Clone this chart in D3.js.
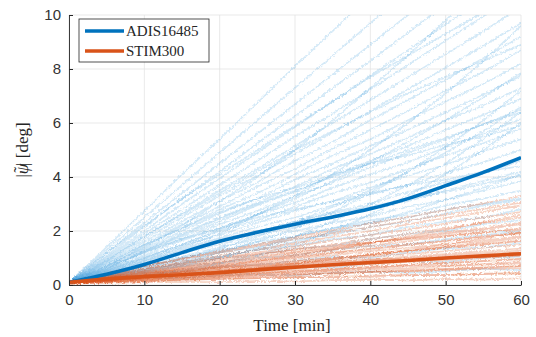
<!DOCTYPE html>
<html><head><meta charset="utf-8">
<script src="https://cdn.jsdelivr.net/npm/d3@7"></script>
<style>body{margin:0;background:#fff}svg{display:block}</style>
</head><body>
<svg id="c" width="536" height="337"></svg>
<script>
const times = [0,5,10,15,20,25,30,35,40,45,50,55,60];
const xTicks = [0,10,20,30,40,50,60];
const yTicks = [0,2,4,6,8,10];
const seriesNames = ["ADIS16485","STIM300"];
const blueMean = [0.1,0.4,0.76,1.2,1.62,1.95,2.25,2.52,2.82,3.2,3.68,4.17,4.72];
const orangeMean = [0.1,0.22,0.31,0.38,0.46,0.56,0.66,0.75,0.83,0.91,1.0,1.08,1.16];
const blueRuns = [
[0.1,0.2,0.3,0.25,0.35,0.4,0.35,0.45,0.5,0.45,0.5,0.6,0.55],
[0.1,0.3,0.35,0.5,0.45,0.6,0.7,0.65,0.8,0.9,0.85,1.0,1.05],
[0.1,0.25,0.45,0.5,0.7,0.75,0.9,1.05,1.0,1.2,1.35,1.4,1.55],
[0.1,0.35,0.5,0.7,0.8,1.0,1.1,1.3,1.45,1.5,1.7,1.85,2.0],
[0.1,0.3,0.6,0.75,1.0,1.1,1.35,1.45,1.7,1.9,2.0,2.25,2.4],
[0.1,0.4,0.55,0.85,1.05,1.3,1.45,1.7,1.85,2.15,2.35,2.5,2.8],
[0.1,0.35,0.7,0.9,1.2,1.4,1.7,1.85,2.15,2.35,2.65,2.95,3.15],
[0.1,0.45,0.65,1.0,1.25,1.6,1.8,2.1,2.4,2.6,2.95,3.2,3.5],
[0.1,0.4,0.8,1.05,1.4,1.7,2.0,2.3,2.55,2.9,3.15,3.5,3.85],
[0.1,0.5,0.8,1.2,1.5,1.85,2.15,2.5,2.85,3.1,3.5,3.85,4.2],
[0.1,0.45,0.9,1.25,1.65,1.95,2.35,2.7,3.0,3.45,3.8,4.15,4.6],
[0.1,0.55,0.95,1.35,1.75,2.15,2.5,2.95,3.35,3.7,4.15,4.55,5.0],
[0.1,0.5,1.0,1.45,1.85,2.3,2.75,3.1,3.6,4.05,4.45,4.95,5.4],
[0.1,0.6,1.05,1.5,2.0,2.4,2.9,3.4,3.8,4.3,4.8,5.25,5.8],
[0.1,0.55,1.1,1.65,2.1,2.6,3.05,3.6,4.1,4.55,5.1,5.6,6.15],
[0.1,0.65,1.2,1.7,2.25,2.75,3.3,3.8,4.35,4.9,5.4,5.95,6.5],
[0.1,0.6,1.25,1.8,2.35,2.95,3.45,4.05,4.6,5.15,5.75,6.3,6.9],
[0.1,0.7,1.3,1.9,2.5,3.05,3.65,4.3,4.85,5.45,6.1,6.65,7.3],
[0.1,0.75,1.35,2.0,2.65,3.2,3.9,4.5,5.15,5.75,6.4,7.05,7.75],
[0.1,0.7,1.45,2.1,2.8,3.4,4.1,4.8,5.4,6.1,6.8,7.45,8.2],
[0.1,0.8,1.5,2.25,2.9,3.65,4.3,5.05,5.75,6.45,7.2,7.9,8.7],
[0.1,0.85,1.6,2.35,3.1,3.8,4.6,5.3,6.1,6.85,7.6,8.4,9.2],
[0.1,0.9,1.7,2.5,3.3,4.05,4.85,5.65,6.45,7.25,8.05,8.85,9.7],
[0.1,0.95,1.8,2.65,3.5,4.3,5.15,6.0,6.85,7.7,8.55,9.4,10.3],
[0.1,1.0,1.9,2.8,3.7,4.6,5.5,6.35,7.25,8.15,9.05,9.95,10.9],
[0.1,1.05,2.0,3.0,3.95,4.9,5.85,6.8,7.75,8.7,9.65,10.6,11.6],
[0.1,1.1,2.15,3.2,4.2,5.25,6.25,7.3,8.3,9.35,10.4,11.4,12.4],
[0.1,1.2,2.3,3.4,4.5,5.6,6.7,7.8,8.9,10.0,11.1,12.2,13.3],
[0.1,1.3,2.5,3.7,4.9,6.1,7.3,8.5,9.7,10.9,12.1,13.3,14.5],
[0.1,1.4,2.75,4.1,5.4,6.75,8.1,9.4,10.75,12.1,13.4,14.8,16.1],
[0.1,0.2,0.35,0.55,0.8,1.1,1.5,2.0,2.6,3.3,4.1,5.0,6.0],
[0.1,0.3,0.5,0.8,1.2,1.6,2.1,2.7,3.4,4.2,5.1,6.1,7.2],
[0.1,0.6,1.2,1.7,2.1,2.5,2.8,3.1,3.4,3.7,3.9,4.2,4.4],
[0.1,0.8,1.5,2.1,2.7,3.2,3.6,4.1,4.5,4.8,5.2,5.5,5.9],
[0.1,0.25,0.45,0.7,1.0,1.35,1.8,2.35,3.0,3.7,4.5,5.4,6.4],
[0.1,0.5,0.9,1.4,1.9,2.6,3.3,4.1,5.0,6.0,7.1,8.3,9.6],
[0.1,0.7,1.4,2.2,3.1,4.0,5.0,6.1,7.3,8.5,9.8,11.2,12.6],
[0.1,0.4,0.7,1.0,1.3,1.5,1.8,2.1,2.3,2.5,2.8,3.0,3.2],
[0.1,0.45,0.85,1.3,1.7,2.0,2.35,2.65,2.9,3.2,3.45,3.75,4.05],
[0.1,0.35,0.6,0.95,1.35,1.8,2.3,2.9,3.5,4.2,4.9,5.7,6.6],
[0.1,0.9,1.8,2.6,3.4,4.2,5.0,5.7,6.4,7.1,7.7,8.3,8.9],
[0.1,1.2,2.2,3.2,4.1,5.0,5.9,6.8,7.7,8.5,9.3,10.1,10.9],
[0.1,0.55,1.0,1.5,2.05,2.6,3.2,3.85,4.55,5.3,6.1,6.95,7.85],
[0.1,0.3,0.55,0.8,1.05,1.3,1.6,1.95,2.3,2.7,3.15,3.6,4.1],
[0.1,0.65,1.25,1.85,2.45,3.0,3.5,4.0,4.5,5.0,5.45,5.95,6.4]
];
const orangeRuns = [
[0.05,0.08,0.1,0.12,0.1,0.15,0.13,0.18,0.2,0.17,0.22,0.2,0.25],
[0.08,0.12,0.15,0.2,0.22,0.25,0.3,0.28,0.35,0.38,0.36,0.42,0.45],
[0.1,0.15,0.2,0.25,0.3,0.35,0.4,0.42,0.48,0.5,0.55,0.6,0.62],
[0.1,0.15,0.22,0.3,0.35,0.42,0.45,0.52,0.58,0.62,0.7,0.75,0.8],
[0.1,0.18,0.25,0.32,0.4,0.48,0.55,0.6,0.68,0.75,0.8,0.88,0.95],
[0.1,0.2,0.28,0.38,0.45,0.52,0.62,0.7,0.78,0.85,0.92,1.0,1.08],
[0.1,0.18,0.3,0.4,0.5,0.58,0.68,0.78,0.85,0.95,1.05,1.12,1.2],
[0.1,0.22,0.32,0.45,0.55,0.65,0.75,0.85,0.95,1.05,1.15,1.25,1.35],
[0.1,0.2,0.35,0.48,0.6,0.7,0.82,0.92,1.05,1.15,1.25,1.38,1.5],
[0.1,0.25,0.38,0.5,0.65,0.78,0.9,1.0,1.15,1.28,1.4,1.52,1.65],
[0.1,0.22,0.4,0.55,0.68,0.82,0.98,1.1,1.25,1.38,1.52,1.65,1.8],
[0.1,0.28,0.42,0.6,0.75,0.9,1.05,1.2,1.35,1.5,1.65,1.8,1.95],
[0.1,0.25,0.45,0.62,0.8,0.95,1.12,1.3,1.45,1.62,1.8,1.95,2.1],
[0.1,0.3,0.5,0.68,0.85,1.05,1.22,1.4,1.58,1.75,1.95,2.1,2.3],
[0.1,0.32,0.52,0.72,0.92,1.12,1.32,1.5,1.7,1.9,2.1,2.3,2.5],
[0.1,0.35,0.55,0.78,1.0,1.2,1.42,1.65,1.85,2.05,2.28,2.5,2.7],
[0.1,0.38,0.6,0.85,1.08,1.3,1.55,1.78,2.0,2.25,2.48,2.7,2.95],
[0.1,0.42,0.7,0.98,1.25,1.5,1.78,2.02,2.28,2.52,2.78,3.02,3.3],
[0.05,0.1,0.15,0.18,0.22,0.25,0.28,0.32,0.3,0.35,0.38,0.4,0.42],
[0.08,0.15,0.25,0.3,0.38,0.45,0.5,0.55,0.62,0.7,0.72,0.78,0.85],
[0.1,0.2,0.3,0.42,0.5,0.6,0.72,0.8,0.9,1.0,1.1,1.18,1.28],
[0.1,0.22,0.35,0.48,0.62,0.75,0.88,1.0,1.12,1.25,1.38,1.5,1.62],
[0.1,0.25,0.4,0.58,0.72,0.88,1.02,1.18,1.32,1.48,1.62,1.78,1.92],
[0.1,0.3,0.48,0.65,0.85,1.0,1.2,1.35,1.55,1.72,1.9,2.05,2.25],
[0.05,0.12,0.2,0.26,0.3,0.36,0.4,0.46,0.5,0.56,0.6,0.66,0.7],
[0.1,0.3,0.45,0.55,0.65,0.72,0.8,0.86,0.92,0.98,1.02,1.08,1.12],
[0.1,0.15,0.25,0.35,0.48,0.62,0.78,0.95,1.12,1.3,1.5,1.72,1.95],
[0.1,0.35,0.6,0.8,0.98,1.15,1.3,1.45,1.58,1.7,1.82,1.95,2.05],
[0.1,0.2,0.35,0.5,0.68,0.88,1.1,1.32,1.55,1.8,2.05,2.32,2.6],
[0.05,0.1,0.14,0.2,0.26,0.3,0.36,0.42,0.48,0.52,0.58,0.64,0.7],
[0.1,0.25,0.36,0.46,0.55,0.62,0.7,0.76,0.84,0.9,0.98,1.04,1.1],
[0.1,0.4,0.7,0.95,1.2,1.45,1.7,1.92,2.15,2.38,2.6,2.82,3.05],
[0.08,0.14,0.2,0.28,0.34,0.42,0.5,0.58,0.66,0.74,0.82,0.9,0.98],
[0.1,0.18,0.28,0.4,0.52,0.66,0.8,0.96,1.1,1.26,1.42,1.58,1.75]
];
const colors = ["#0072BD","#D95319"];

const svg = d3.select("#c");
const L = 69, R = 521, T = 15, B = 285;
const x = d3.scaleLinear().domain([0,60]).range([L,R]);
const y = d3.scaleLinear().domain([0,10]).range([B,T]);

const defs = svg.append("defs");
const f = defs.append("filter").attr("id","rough").attr("filterUnits","userSpaceOnUse")
  .attr("x",L-10).attr("y",T-10).attr("width",R-L+20).attr("height",B-T+20);
f.append("feTurbulence").attr("type","fractalNoise").attr("baseFrequency","0.45").attr("numOctaves",2).attr("seed",4).attr("result","n");
f.append("feDisplacementMap").attr("in","SourceGraphic").attr("in2","n").attr("scale",4).attr("xChannelSelector","R").attr("yChannelSelector","G").attr("result","d");
f.append("feGaussianBlur").attr("in","d").attr("stdDeviation",0.35);

// grid
const g = svg.append("g");
g.selectAll(".gx").data(xTicks).join("line")
  .attr("x1",d=>x(d)).attr("x2",d=>x(d)).attr("y1",T).attr("y2",B)
  .attr("stroke","#e3e3e3").attr("stroke-width",0.8);
g.selectAll(".gy").data(yTicks).join("line")
  .attr("x1",L).attr("x2",R).attr("y1",d=>y(d)).attr("y2",d=>y(d))
  .attr("stroke","#e3e3e3").attr("stroke-width",0.8);

defs.append("clipPath").attr("id","clip").append("rect")
  .attr("x",L).attr("y",T).attr("width",R-L).attr("height",B-T);
const plot = svg.append("g").attr("clip-path","url(#clip)");
const line = d3.line().x((d,i)=>x(times[i])).y(d=>y(d));
const smooth = d3.line().x((d,i)=>x(times[i])).y(d=>y(d)).curve(d3.curveCatmullRom.alpha(0.5));

const runs = plot.append("g").attr("filter","url(#rough)");
runs.selectAll(".br").data(blueRuns).join("path")
  .attr("d",line).attr("fill","none").attr("stroke","#4DA3DE")
  .attr("stroke-opacity",0.24).attr("stroke-width",1.6);
runs.selectAll(".or").data(orangeRuns).join("path")
  .attr("d",line).attr("fill","none").attr("stroke","#D95319")
  .attr("stroke-opacity",0.27).attr("stroke-width",1.6);

plot.append("path").datum(blueMean).attr("d",smooth).attr("fill","none")
  .attr("stroke",colors[0]).attr("stroke-width",3.6);
plot.append("path").datum(orangeMean).attr("d",smooth).attr("fill","none")
  .attr("stroke",colors[1]).attr("stroke-width",3.6);

// axes
const xa = svg.append("g").attr("transform",`translate(0,${B})`)
  .call(d3.axisBottom(x).tickValues(xTicks).tickSizeInner(-4).tickSizeOuter(0).tickPadding(9));
const ya = svg.append("g").attr("transform",`translate(${L},0)`)
  .call(d3.axisLeft(y).tickValues(yTicks).tickSizeInner(-4).tickSizeOuter(0).tickPadding(8));
[xa,ya].forEach(a=>{
  a.select(".domain").attr("stroke","#262626").attr("stroke-width",0.9);
  a.selectAll(".tick line").attr("stroke","#262626");
  a.selectAll("text").attr("fill","#333").style("font-family","'Liberation Sans',Arial,sans-serif").style("font-size","15px");
});

// labels
svg.append("text").attr("x",(L+R)/2 - 3).attr("y",331).attr("text-anchor","middle")
  .style("font-family","'Liberation Serif',serif").style("font-size","17px").attr("fill","#262626")
  .text("Time [min]");
const yl = svg.append("text").attr("transform","translate(28,150) rotate(-90)").attr("text-anchor","middle")
  .style("font-family","'Liberation Serif',serif").style("font-size","17px").attr("fill","#262626");
yl.append("tspan").text("|");
yl.append("tspan").style("font-style","italic").text("ψ");
yl.append("tspan").attr("dx",-9).attr("dy",-3).text("˜");
yl.append("tspan").attr("dx",1).attr("dy",3).text("| [deg]");

// legend
const lg = svg.append("g");
lg.append("rect").attr("x",79).attr("y",19).attr("width",130).attr("height",43)
  .attr("fill","#fff").attr("stroke","#262626").attr("stroke-width",0.8);
seriesNames.forEach((n,i)=>{
  const yy = 31 + i*20;
  lg.append("line").attr("x1",85).attr("x2",124).attr("y1",yy).attr("y2",yy)
    .attr("stroke",colors[i]).attr("stroke-width",3.6);
  lg.append("text").attr("x",126).attr("y",yy+5).text(n)
    .style("font-family","'Liberation Serif',serif").style("font-size","15px").attr("fill","#262626");
});
</script>
</body></html>
